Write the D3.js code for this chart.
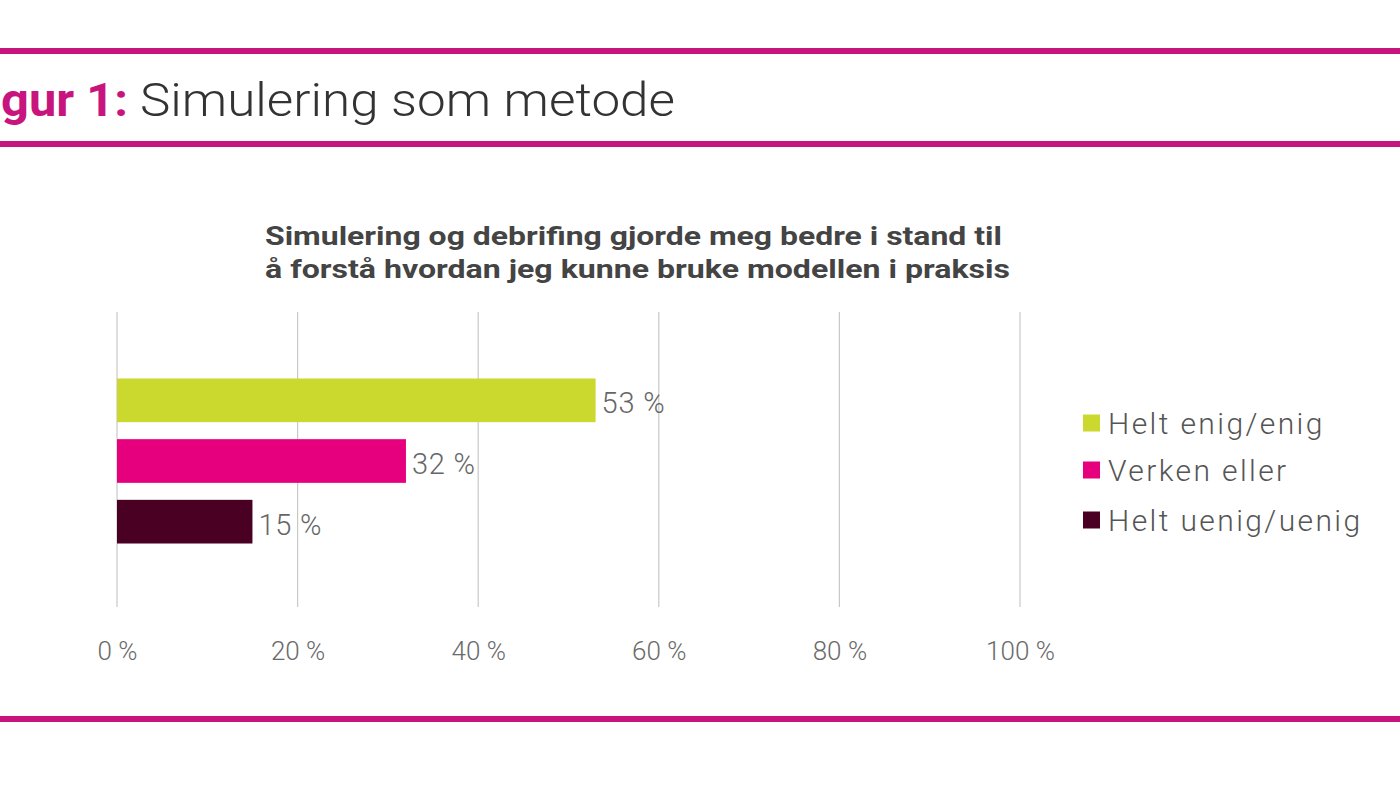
<!DOCTYPE html>
<html><head><meta charset="utf-8">
<script src="https://cdn.jsdelivr.net/npm/d3@7"></script>
<style>body{margin:0;background:#fff}svg{display:block}</style>
</head><body>
<svg id="c" width="1400" height="786"></svg>
<script>
const categories = ["Helt enig/enig", "Verken eller", "Helt uenig/uenig"];
const values = [53, 32, 15];
const colors = ["#cbd82e", "#e6007e", "#4a0022"];
const ticks = [0, 20, 40, 60, 80, 100];
const titleLabel = "gur 1:";
const titleText = "Simulering som metode";
const subtitle = ["Simulering og debrifing gjorde meg bedre i stand til", "å forstå hvordan jeg kunne bruke modellen i praksis"];

const svg = d3.select("#c");
const pink = "#c8157e";
const font = "Roboto, 'Noto Sans', sans-serif";

// frame lines
[51, 144, 719].forEach(y => svg.append("rect").attr("x", 0).attr("y", y - 3).attr("width", 1400).attr("height", 6).attr("fill", pink));

// title
svg.append("text").attr("x", 1).attr("y", 116).attr("font-family", font).attr("font-size", 46)
  .attr("font-weight", 700).attr("fill", pink).attr("textLength", 127).attr("lengthAdjust", "spacingAndGlyphs").text(titleLabel);
svg.append("text").attr("x", 140).attr("y", 116).attr("font-family", font).attr("font-size", 47)
  .attr("font-weight", 300).attr("fill", "#333").attr("textLength", 535).attr("lengthAdjust", "spacingAndGlyphs").text(titleText);

// subtitle
subtitle.forEach((s, i) => svg.append("text").attr("x", 265).attr("y", 245 + i * 33)
  .attr("font-family", font).attr("font-size", 25).attr("font-weight", 700)
  .attr("fill", "#444").attr("textLength", i === 0 ? 737 : 745).attr("lengthAdjust", "spacingAndGlyphs").text(s));

const x = d3.scaleLinear().domain([0, 100]).range([117, 1020]);
const y = d3.scaleBand().domain(categories).range([370, 552]).paddingInner(0.28).paddingOuter(0.14);
const gy0 = 312, gy1 = 607;

// grid
svg.append("g").selectAll("line").data(ticks).join("line")
  .attr("x1", d => x(d)).attr("x2", d => x(d)).attr("y1", gy0).attr("y2", gy1)
  .attr("stroke", "#c8c8c8").attr("stroke-width", 1.2);

// axis labels
const ax = svg.append("g").attr("transform", `translate(0,${gy1})`)
  .call(d3.axisBottom(x).tickValues(ticks).tickSize(0).tickPadding(35).tickFormat(d => d + " %"));
ax.select(".domain").remove();
ax.selectAll("text").attr("font-family", font).attr("font-size", 26).attr("font-weight", 300).attr("fill", "#6a6a6a");

// bars
svg.append("g").selectAll("rect").data(values).join("rect")
  .attr("x", x(0)).attr("y", (d, i) => y(categories[i]))
  .attr("width", d => x(d) - x(0)).attr("height", y.bandwidth())
  .attr("fill", (d, i) => colors[i]);

svg.append("g").selectAll("text").data(values).join("text")
  .attr("x", d => x(d) + 6).attr("y", (d, i) => y(categories[i]) + y.bandwidth() / 2 + 3)
  .attr("dy", "0.35em").attr("font-family", font).attr("font-size", 29).attr("font-weight", 300)
  .attr("letter-spacing", 0.8).attr("fill", "#666").text(d => d + " %");

// legend
const leg = svg.append("g");
const ly = [423, 470, 520];
categories.forEach((c, i) => {
  leg.append("rect").attr("x", 1083).attr("y", ly[i] - 8.5).attr("width", 17).attr("height", 17).attr("fill", colors[i]);
  leg.append("text").attr("x", 1108).attr("y", ly[i]).attr("dy", "0.36em")
    .attr("font-family", font).attr("font-size", 30).attr("font-weight", 300).attr("letter-spacing", 2.4)
    .attr("fill", "#555").text(c);
});
</script>
</body></html>
